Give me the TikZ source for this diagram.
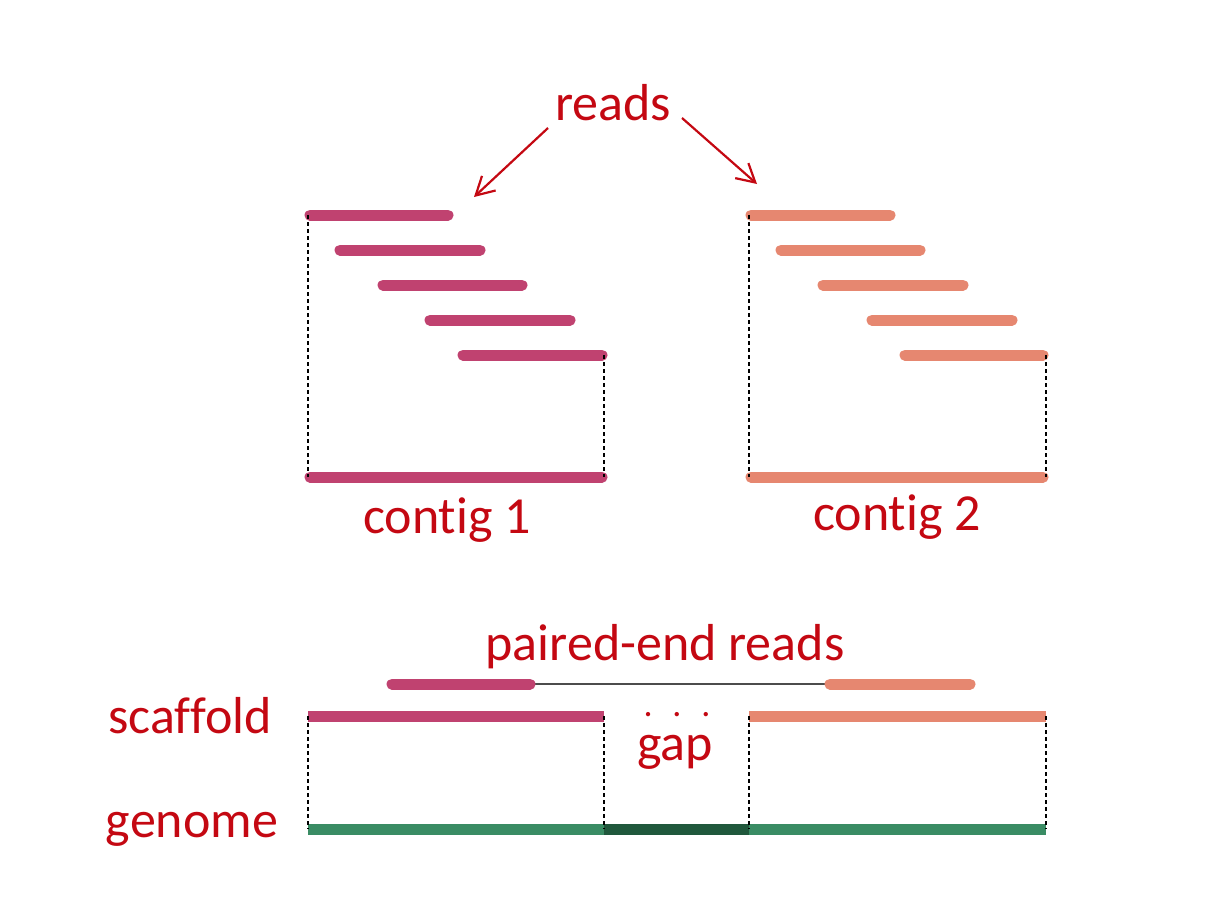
\documentclass[tikz,border=0pt]{standalone}
\usepackage{fontspec}
\setmainfont[Ligatures={NoCommon}]{Carlito}
\usetikzlibrary{arrows.meta}
\definecolor{txtred}{RGB}{196,8,18}
\definecolor{readA}{RGB}{192,66,112}
\definecolor{readB}{RGB}{230,135,112}
\definecolor{gnm}{RGB}{58,140,100}
\definecolor{gnmgap}{RGB}{32,88,60}
\begin{document}
\begin{tikzpicture}[x=0.5pt, y=-0.5pt]
	\tikzset{lbl/.style={anchor=base, inner sep=0pt, text=txtred, font=\fontsize{26}{30}\selectfont}};
	\tikzset{bar/.style={line width=5.5pt, line cap=round}};
	\tikzset{guide/.style={line width=0.6pt, dash pattern=on 2pt off 1.5pt}};
	\tikzset{pointer/.style={draw=txtred, line width=1.1pt, -{Straight Barb[length=9pt, width=10pt]}}};

	\useasboundingbox (0, 0) rectangle (1220, 910);

	% labels
	\node[lbl] (reads) at (613, 120) {reads};
	\node[lbl] (c1) at (447, 533) {contig 1};
	\node[lbl] (c2) at (897, 530) {contig 2};
	\node[lbl] (pe) at (665, 660) {paired-end reads};
	\node[lbl, font=\fontsize{18}{20}\selectfont] (dots) at (677, 716) {.\hspace{0.55em}.\hspace{0.55em}.};
	\node[lbl] (gap) at (675, 760) {gap};
	\node[lbl] (scf) at (190, 733) {scaffold};
	\node[lbl] (gen) at (192, 837) {genome};

	% arrows to the reads
	\coordinate (tipa) at (474, 197);
	\coordinate (tipb) at (757, 184);
	\draw[pointer] (548, 128) to (tipa);
	\draw[pointer] (682, 118) to (tipb);

	% contig 1 reads
	\draw[readA, bar] (310, 215) to (448, 215);
	\draw[readA, bar] (340, 250) to (480, 250);
	\draw[readA, bar] (383, 285) to (522, 285);
	\draw[readA, bar] (430, 320) to (570, 320);
	\draw[readA, bar] (463, 355) to (602, 355);
	\draw[readA, bar] (310, 477) to (602, 477);

	% contig 2 reads
	\draw[readB, bar] (751, 215) to (890, 215);
	\draw[readB, bar] (781, 250) to (920, 250);
	\draw[readB, bar] (823, 285) to (963, 285);
	\draw[readB, bar] (872, 320) to (1012, 320);
	\draw[readB, bar] (905, 355) to (1043, 355);
	\draw[readB, bar] (751, 477) to (1043, 477);

	% contig borders
	\draw[guide] (308, 215) to (308, 477);
	\draw[guide] (604, 355) to (604, 477);
	\draw[guide] (749, 215) to (749, 477);
	\draw[guide] (1046, 355) to (1046, 477);

	% paired-end read
	\coordinate (pa) at (530, 684);
	\coordinate (pb) at (830, 684);
	\draw[black!70, line width=1pt] (pa) to (pb);
	\draw[readA, bar] (392, 684) to (pa);
	\draw[readB, bar] (pb) to (970, 684);

	% scaffold
	\draw[readA, bar, line cap=butt] (308, 716) to (604, 716);
	\draw[readB, bar, line cap=butt] (749, 716) to (1046, 716);

	% genome
	\draw[gnm, bar, line cap=butt] (308, 829) to (604, 829);
	\draw[gnmgap, bar, line cap=butt] (604, 829) to (749, 829);
	\draw[gnm, bar, line cap=butt] (749, 829) to (1046, 829);

	\draw[guide] (308, 716) to (308, 829);
	\draw[guide] (604, 716) to (604, 829);
	\draw[guide] (749, 716) to (749, 829);
	\draw[guide] (1046, 716) to (1046, 829);
\end{tikzpicture}
\end{document}
